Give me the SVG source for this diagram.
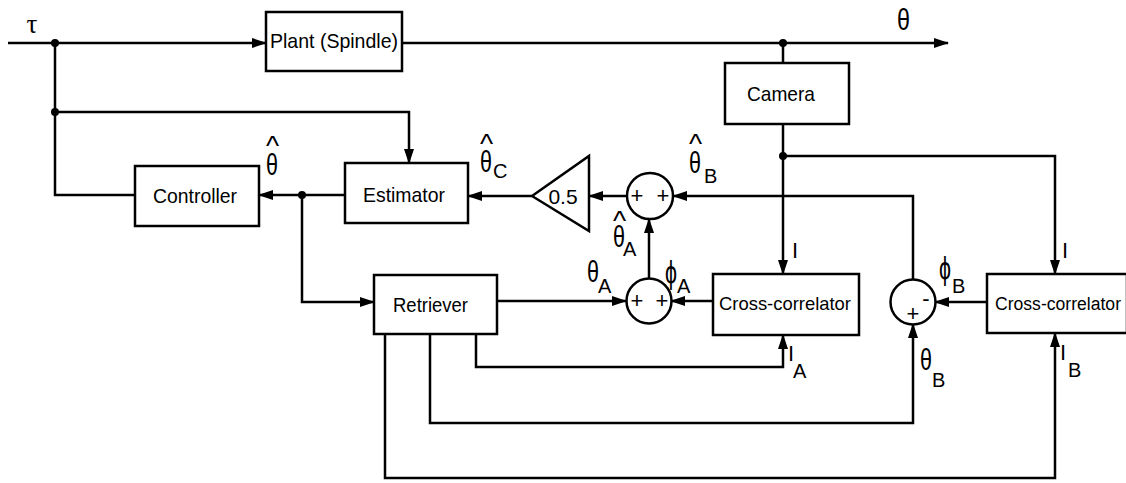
<svg xmlns="http://www.w3.org/2000/svg" width="1126" height="483" viewBox="0 0 1126 483">
<style>
.box{fill:#fff;stroke:#000;stroke-width:2.5}
.w{fill:none;stroke:#000;stroke-width:2.5}
.arr{marker-end:url(#ah)}
.lbl{font-family:"Liberation Sans",Arial,sans-serif;font-size:21px;fill:#000}
.m{font-family:"Liberation Sans",Arial,sans-serif;font-size:20px;fill:#000}
.g{font-size:29px}
.p{font-size:31px}
.h{font-size:28px}
.i{font-size:22px}
.sg{font-family:"Liberation Sans",Arial,sans-serif;font-size:22px;fill:#000;text-anchor:middle}
.dot{fill:#000}
</style>
<defs>
<marker id="ah" markerUnits="userSpaceOnUse" markerWidth="15" markerHeight="10" refX="14" refY="5" orient="auto">
<path d="M0,0 L15,5 L0,10 Z" fill="#000"/>
</marker>
</defs>
<rect width="1126" height="483" fill="#fff"/>
<g id="connectors">
<path class="w arr" d="M8,43 H266"/>
<path class="w arr" d="M402,43 H948"/>
<path class="w" d="M783,43 V63"/>
<path class="w arr" d="M783,124 V274"/>
<path class="w arr" d="M783,156 H1055 V274"/>
<path class="w" d="M55,43 V195 H135"/>
<path class="w arr" d="M55,112 H409 V163"/>
<path class="w arr" d="M345,195 H259"/>
<path class="w arr" d="M302,195 V302 H374"/>
<path class="w arr" d="M532,196 H468"/>
<path class="w arr" d="M627,196 H589"/>
<path class="w arr" d="M913,280 V196 H673"/>
<path class="w arr" d="M649,279 V219"/>
<path class="w arr" d="M497,301 H626"/>
<path class="w arr" d="M713,301 H671"/>
<path class="w arr" d="M987,302 H935"/>
<path class="w arr" d="M476,334 V367 H783 V335"/>
<path class="w arr" d="M430,334 V423 H913 V324"/>
<path class="w arr" d="M385,334 V478 H1055 V333"/>
<circle class="dot" cx="55" cy="43" r="4"/>
<circle class="dot" cx="55" cy="112" r="4"/>
<circle class="dot" cx="783" cy="43" r="4"/>
<circle class="dot" cx="783" cy="156" r="4"/>
<circle class="dot" cx="302" cy="195" r="4"/>
</g>
<g id="plant"><rect class="box" x="266" y="12" width="136" height="59"/><text class="lbl" x="270" y="48" textLength="128" lengthAdjust="spacingAndGlyphs">Plant (Spindle)</text></g>
<g id="camera"><rect class="box" x="725" y="63" width="124" height="61"/><text class="lbl" x="747" y="101" textLength="68" lengthAdjust="spacingAndGlyphs">Camera</text></g>
<g id="controller"><rect class="box" x="135" y="166" width="124" height="60"/><text class="lbl" x="153" y="203" textLength="84" lengthAdjust="spacingAndGlyphs">Controller</text></g>
<g id="estimator"><rect class="box" x="345" y="163" width="123" height="60"/><text class="lbl" x="363" y="202" textLength="82" lengthAdjust="spacingAndGlyphs">Estimator</text></g>
<g id="retriever"><rect class="box" x="374" y="275" width="123" height="59"/><text class="lbl" x="393" y="312" textLength="75" lengthAdjust="spacingAndGlyphs">Retriever</text></g>
<g id="crosscorrA"><rect class="box" x="713" y="274" width="146" height="61"/><text class="lbl" x="719" y="310" textLength="132" lengthAdjust="spacingAndGlyphs" style="font-size:19px">Cross-correlator</text></g>
<g id="crosscorrB"><rect class="box" x="987" y="274" width="140" height="59"/><text class="lbl" x="995" y="310" textLength="126" lengthAdjust="spacingAndGlyphs" style="font-size:18px">Cross-correlator</text></g>
<g id="gain"><polygon class="box" points="532,196 589,156 589,231"/><text class="lbl" x="563" y="204" text-anchor="middle">0.5</text></g>
<g id="sumTop"><circle class="box" cx="650" cy="196" r="23"/><text class="sg" x="637" y="203">+</text><text class="sg" x="663" y="203">+</text></g>
<g id="sumA"><circle class="box" cx="649" cy="301" r="22.5"/><text class="sg" x="637" y="308">+</text><text class="sg" x="662" y="308">+</text></g>
<g id="sumB"><circle class="box" cx="913" cy="302" r="22.5"/><text class="sg" x="926" y="306">-</text><text class="sg" x="913" y="321">+</text></g>
<g id="labels">
<text x="32" y="33" text-anchor="middle" style="font-family:'Liberation Serif',serif;font-size:27px">τ</text>
<text class="m g" x="897" y="30" textLength="13" lengthAdjust="spacingAndGlyphs">θ</text>
<text class="m"><tspan class="h" x="266" y="155">^</tspan><tspan class="g" x="266" y="175" textLength="12" lengthAdjust="spacingAndGlyphs">θ</tspan></text>
<text class="m"><tspan class="h" x="480" y="153">^</tspan><tspan class="g" x="480" y="172" textLength="12" lengthAdjust="spacingAndGlyphs">θ</tspan><tspan x="493" y="178">C</tspan></text>
<text class="m"><tspan class="h" x="689" y="153">^</tspan><tspan class="g" x="689" y="173" textLength="12" lengthAdjust="spacingAndGlyphs">θ</tspan><tspan x="704" y="183">B</tspan></text>
<text class="m"><tspan class="h" x="613" y="230">^</tspan><tspan class="g" x="613" y="247" textLength="12" lengthAdjust="spacingAndGlyphs">θ</tspan><tspan x="623" y="256">A</tspan></text>
<text class="m"><tspan class="g" x="587" y="282" textLength="12" lengthAdjust="spacingAndGlyphs">θ</tspan><tspan x="598" y="293">A</tspan></text>
<text class="m"><tspan class="p" x="665" y="283" textLength="12" lengthAdjust="spacingAndGlyphs">ϕ</tspan><tspan x="677" y="293">A</tspan></text>
<text class="m"><tspan class="p" x="939" y="279" textLength="12" lengthAdjust="spacingAndGlyphs">ϕ</tspan><tspan x="952" y="293">B</tspan></text>
<text class="m"><tspan class="g" x="920" y="370" textLength="12" lengthAdjust="spacingAndGlyphs">θ</tspan><tspan x="932" y="387">B</tspan></text>
<text class="m"><tspan class="i" x="788" y="361">I</tspan><tspan x="793" y="378">A</tspan></text>
<text class="m"><tspan class="i" x="1060" y="360">I</tspan><tspan x="1068" y="377">B</tspan></text>
<text class="m i" x="792" y="258">I</text>
<text class="m i" x="1062" y="258">I</text>
</g>
</svg>
